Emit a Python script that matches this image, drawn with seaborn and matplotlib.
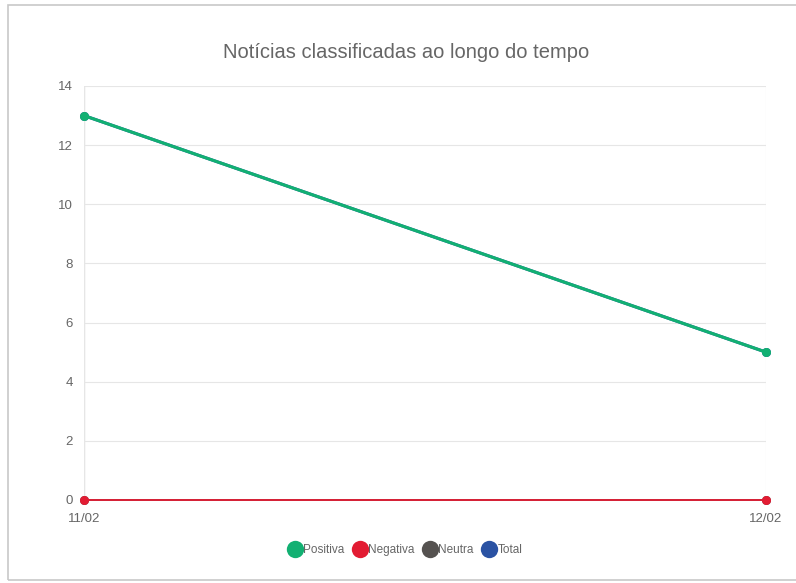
import matplotlib.pyplot as plt
import matplotlib.patches as mpatches
from matplotlib.lines import Line2D
import pandas as pd
import seaborn as sns

# Data
dates = ["11/02", "12/02"]
positiva = [13, 5]
negativa = [0, 0]
neutra = [0, 0]
total = [13, 5]

series = ["Positiva", "Negativa", "Neutra", "Total"]
colors = {"Positiva": "#12b072", "Negativa": "#e21c33",
          "Neutra": "#555250", "Total": "#2a52a3"}

df = pd.DataFrame({
    "data": dates * 4,
    "valor": positiva + negativa + neutra + total,
    "serie": sum([[s] * len(dates) for s in series], []),
})

sns.set_style("white")
plt.rcParams['font.family'] = ['Liberation Sans', 'DejaVu Sans']

fig = plt.figure(figsize=(7.96, 5.83), dpi=100)
ax = fig.add_axes([84 / 796, 1 - 500 / 583, (766 - 84) / 796, (500 - 86) / 583])

# draw in reverse order so that Positiva stays on top
widths = {"Positiva": 2.2, "Negativa": 1.3, "Neutra": 1.3, "Total": 2.2}
for s in reversed(series):
    sub = df[df["serie"] == s]
    sns.lineplot(data=sub, x="data", y="valor", ax=ax, color=colors[s],
                 linewidth=widths[s], marker="o", markersize=6.5,
                 markeredgewidth=0, clip_on=False, legend=False)

ax.set_xlim(0, 1)
ax.set_ylim(0, 14)
ax.set_yticks(range(0, 15, 2))
ax.set_xlabel("")
ax.set_ylabel("")
ax.grid(True, color="#e6e6e6", linewidth=0.8)
for sp in ax.spines.values():
    sp.set_visible(False)
ax.axvline(0, color="#d0d0d0", linewidth=0.9, zorder=0)
ax.tick_params(axis="both", length=6, color="#e6e6e6", labelsize=9.5,
               labelcolor="#666666", pad=2)
ax.tick_params(axis="x", pad=3)

fig.text(406 / 796, 1 - 52 / 583, "Notícias classificadas ao longo do tempo",
         ha="center", va="center", fontsize=14.5, color="#666666")

handles = [Line2D([0], [0], marker="o", linestyle="none", markersize=12.5,
                  markerfacecolor=colors[s], markeredgewidth=0) for s in series]
fig.legend(handles, series, loc="center", bbox_to_anchor=(404 / 796, 1 - 550 / 583),
           ncol=4, frameon=False, fontsize=8.5, handletextpad=-0.1,
           columnspacing=0.5, labelcolor="#666666", handlelength=1.6)

# card border
fig.patches.append(mpatches.Rectangle((8 / 796, 1 - 580 / 583), 1.0, 575 / 583,
                                      transform=fig.transFigure, fill=False,
                                      edgecolor="#c8c8c8", linewidth=1.2))

fig.savefig("out.png", dpi=100)
